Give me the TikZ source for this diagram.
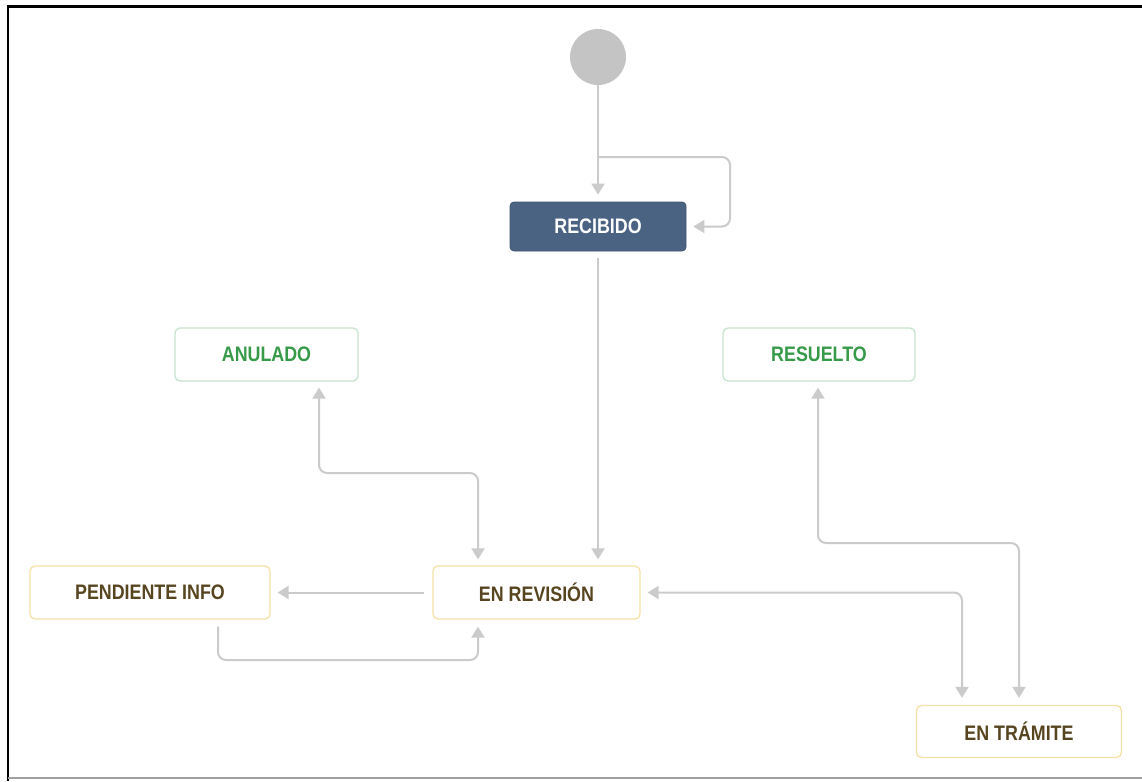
\documentclass[tikz,border=0pt]{standalone}
\usepackage{fontspec}
\newfontfamily\lblfont{Liberation Sans}[FakeStretch=0.85]
\usetikzlibrary{arrows.meta}
\definecolor{conncol}{HTML}{CBCBCB}
\definecolor{recfill}{HTML}{4A6383}
\definecolor{greentxt}{HTML}{379A49}
\definecolor{greenbd}{HTML}{C6E3CD}
\definecolor{yellowbd}{HTML}{F6E2A6}
\definecolor{browntxt}{HTML}{574520}
\definecolor{startfill}{HTML}{C4C4C4}
\tikzset{
  lbl/.style={font=\lblfont\bfseries\fontsize{21}{25}\selectfont},
  recbox/.style={lbl, rectangle, rounded corners=4pt, fill=recfill, draw=recfill!85!black, text=white, line width=0.8pt},
  greenbox/.style={lbl, rectangle, rounded corners=5pt, fill=white, draw=greenbd, text=greentxt, line width=1.3pt},
  yellowbox/.style={lbl, rectangle, rounded corners=5pt, fill=white, draw=yellowbd, text=browntxt, line width=1.3pt},
  conn/.style={draw=conncol, line width=2pt, rounded corners=8pt, arrows={-Triangle[width=13pt,length=11pt,fill=conncol]}},
  conn2/.style={conn, arrows={Triangle[width=13pt,length=11pt,fill=conncol]-Triangle[width=13pt,length=11pt,fill=conncol]}}
}
\begin{document}
\begin{tikzpicture}[x=1pt,y=-1pt]
\useasboundingbox (0,0) rectangle (1142,781);
\fill[white] (0,0) rectangle (1142,781);
% frame
\draw[black, line width=2.5pt] (8,781) -- (8,6.5) -- (1142,6.5);
\draw[gray!75, line width=2pt] (8,777.5) -- (1142,777.5);

% nodes
\node[circle, fill=startfill, minimum size=56pt, inner sep=0pt] (start) at (598,57) {};
\node[recbox, minimum width=176pt, minimum height=49pt] (rec) at (598,226.5) {RECIBIDO};
\node[greenbox, minimum width=183pt, minimum height=53pt] (anu) at (266.5,354.5) {ANULADO};
\node[greenbox, minimum width=192pt, minimum height=53pt] (res) at (819,354.5) {RESUELTO};
\node[yellowbox, minimum width=240pt, minimum height=53pt] (pen) at (150,592.5) {PENDIENTE INFO};
\node[yellowbox, minimum width=207pt, minimum height=53pt] (rev) at (536.5,592.5) {EN REVISIÓN};
\node[yellowbox, minimum width=205pt, minimum height=52pt] (tra) at (1019,731.5) {EN TRÁMITE};

% connectors
\draw[conn] (start.south) -- ([yshift=7pt]rec.north);
\coordinate (lp) at (598,157);
\draw[conn] (lp) -- (730,157) -- (730,226.5) -- ([xshift=7pt]rec.east);
\draw[conn] ([yshift=-7pt]rec.south) -- ([xshift=61.5pt,yshift=6pt]rev.north);
\draw[conn2] ([xshift=52.5pt,yshift=-6pt]anu.south) -- (319,473) -- (478,473) -- ([xshift=-58.5pt,yshift=6pt]rev.north);
\draw[conn] ([xshift=-8pt]rev.west) -- ([xshift=7pt]pen.east);
\draw[conn] ([xshift=68pt,yshift=-7pt]pen.south) -- (218,660) -- (478,660) -- ([xshift=-58.5pt,yshift=-7pt]rev.south);
\draw[conn2] ([xshift=7pt]rev.east) -- (962,592.5) -- ([xshift=-57pt,yshift=7pt]tra.north);
\draw[conn2] ([xshift=-1pt,yshift=-6pt]res.south) -- (818,543) -- (1019,543) -- ([yshift=7pt]tra.north);
\end{tikzpicture}
\end{document}
